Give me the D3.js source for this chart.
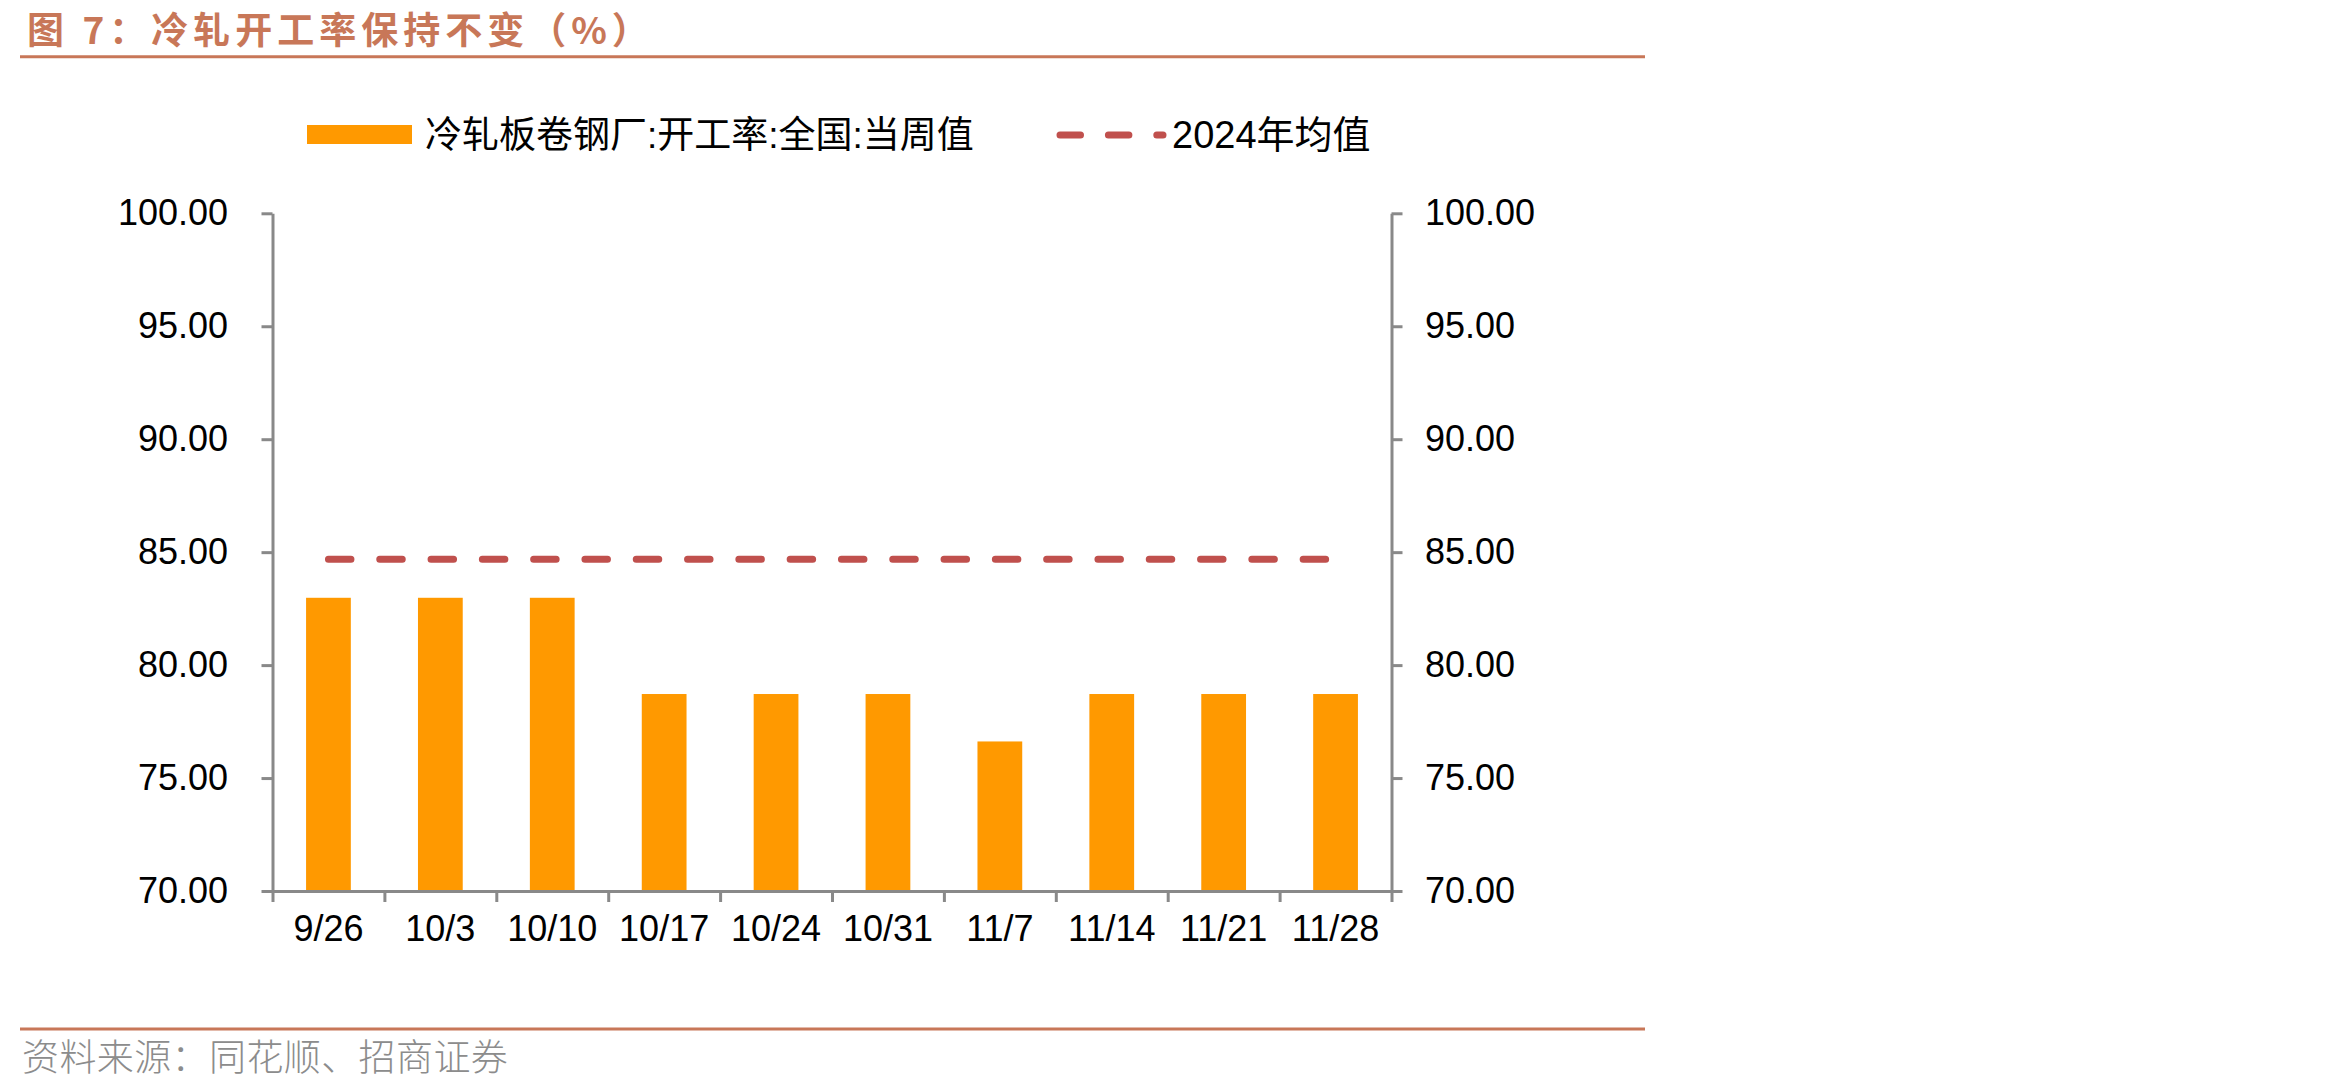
<!DOCTYPE html>
<html>
<head>
<meta charset="utf-8">
<script src="https://cdn.jsdelivr.net/npm/d3@7/dist/d3.min.js"></script>
<style>
    body { margin: 0; background: #fff; }
    svg { display: block; }
</style>
</head>
<body>
<div id="chart"></div>
<script>
// chart values
var categories = ["9/26", "10/3", "10/10", "10/17", "10/24", "10/31", "11/7", "11/14", "11/21", "11/28"];
var weeklyRate = [82.98, 82.98, 82.98, 78.72, 78.72, 78.72, 76.62, 78.72, 78.72, 78.72];
var avg2024 = 84.69;
var yTicks = [70, 75, 80, 85, 90, 95, 100];
var seriesNames = ["冷轧板卷钢厂:开工率:全国:当周值", "2024年均值"];
var titleText = "图 7：冷轧开工率保持不变（%）";
var sourceText = "资料来源：同花顺、招商证券";

var anchorElement = '#chart';
var svgWidth = 2350;
var svgHeight = 1088;

var plotLeft = 272.5;
var plotRight = 1391.5;
var plotTop = 213.3;
var plotBottom = 891;

var axisColor = '#898989';
var barColor = '#FF9900';
var lineColor = '#C0504D';
var brandColor = '#C87758';
var latinFont = '"Liberation Sans", Arial, "Noto Sans CJK SC", sans-serif';
var cjkFont = '"Noto Sans CJK SC", sans-serif';

/**
*   chart                 Draws the whole figure: header, legend, axes, bars, average line
*/
function chart()
{
    var svg = d3.select(anchorElement).append("svg")
        .attr("width", svgWidth)
        .attr("height", svgHeight);

    var x = d3.scaleBand()
        .domain(categories)
        .range([plotLeft, plotRight])
        .paddingInner(0.6)
        .paddingOuter(0.3);

    // boundaries between categories, used for the x tick marks
    var xEdge = d3.scaleLinear()
        .domain([0, categories.length])
        .range([plotLeft, plotRight]);

    var y = d3.scaleLinear()
        .domain([70, 100])
        .range([plotBottom, plotTop]);

    // header + footer
    svg.append("text")
        .attr("x", 27)
        .attr("y", 44)
        .style("font-family", cjkFont)
        .style("font-weight", "bold")
        .style("font-size", "37px")
        .style("letter-spacing", "5px")
        .style("fill", brandColor)
        .text(titleText);

    svg.append("line")
        .attr("x1", 20).attr("x2", 1645)
        .attr("y1", 56.7).attr("y2", 56.7)
        .style("stroke", brandColor)
        .style("stroke-width", 3);

    svg.append("line")
        .attr("x1", 20).attr("x2", 1645)
        .attr("y1", 1029).attr("y2", 1029)
        .style("stroke", brandColor)
        .style("stroke-width", 3);

    svg.append("text")
        .attr("x", 22)
        .attr("y", 1071)
        .style("font-family", cjkFont)
        .style("font-size", "37px")
        .style("font-weight", 300)
        .style("letter-spacing", "0.4px")
        .style("fill", "#8C8C8C")
        .text(sourceText);

    // bars
    svg.selectAll(".bar")
        .data(weeklyRate)
      .enter().append("rect")
        .attr("class", "bar")
        .attr("x", function(d, i) { return x(categories[i]); })
        .attr("y", function(d) { return y(d); })
        .attr("width", x.bandwidth())
        .attr("height", function(d) { return y(70) - y(d); })
        .style("fill", barColor);

    // axes
    var leftAxis = d3.axisLeft(y)
        .tickValues(yTicks)
        .tickFormat(d3.format(".2f"))
        .tickSize(11)
        .tickSizeOuter(0)
        .tickPadding(33.5);

    var rightAxis = d3.axisRight(y)
        .tickValues(yTicks)
        .tickFormat(d3.format(".2f"))
        .tickSize(11)
        .tickSizeOuter(0)
        .tickPadding(22.5);

    var edgeAxis = d3.axisBottom(xEdge)
        .tickValues(d3.range(categories.length + 1))
        .tickFormat("")
        .tickSize(11)
        .tickSizeOuter(0);

    var labelAxis = d3.axisBottom(x)
        .tickSize(0)
        .tickPadding(24);

    var gLeft = svg.append("g")
        .attr("transform", "translate(" + plotLeft + ",0)")
        .call(leftAxis);
    var gRight = svg.append("g")
        .attr("transform", "translate(" + plotRight + ",0)")
        .call(rightAxis);
    var gEdge = svg.append("g")
        .attr("transform", "translate(0," + plotBottom + ")")
        .call(edgeAxis);
    var gLabel = svg.append("g")
        .attr("transform", "translate(0," + plotBottom + ")")
        .call(labelAxis);
    gLabel.select(".domain").remove();

    [gLeft, gRight, gEdge].forEach(function(g) {
        g.selectAll(".domain, line")
            .style("stroke", axisColor)
            .style("stroke-width", 3);
    });
    [gLeft, gRight, gLabel].forEach(function(g) {
        g.selectAll("text")
            .style("font-family", latinFont)
            .style("font-size", "36px")
            .style("fill", "#000");
    });

    // 2024 average, dashed across the category centres
    var avgLine = d3.line()
        .x(function(d) { return x(d) + x.bandwidth() / 2; })
        .y(function() { return y(avg2024); });

    svg.append("path")
        .datum([categories[0], categories[categories.length - 1]])
        .attr("d", avgLine)
        .style("fill", "none")
        .style("stroke", lineColor)
        .style("stroke-width", 7)
        .style("stroke-linecap", "round")
        .style("stroke-dasharray", "22.5,28.8");

    legend(svg);
}

/**
*   legend                Bar swatch + dashed line swatch with series names
*/
function legend(svg)
{
    var g = svg.append("g").attr("class", "legend");

    g.append("rect")
        .attr("x", 307).attr("y", 125)
        .attr("width", 105).attr("height", 19)
        .style("fill", barColor);

    g.append("text")
        .attr("x", 425).attr("y", 148)
        .style("font-family", latinFont)
        .style("font-size", "37px")
        .style("fill", "#000")
        .text(seriesNames[0]);

    g.append("line")
        .attr("x1", 1060).attr("x2", 1163)
        .attr("y1", 135).attr("y2", 135)
        .style("stroke", lineColor)
        .style("stroke-width", 7)
        .style("stroke-linecap", "round")
        .style("stroke-dasharray", "20.5,27.9");

    g.append("text")
        .attr("x", 1172).attr("y", 148)
        .style("font-family", latinFont)
        .style("font-size", "38px")
        .style("fill", "#000")
        .text(seriesNames[1]);
}

// Starts here
chart();
</script>
</body>
</html>
